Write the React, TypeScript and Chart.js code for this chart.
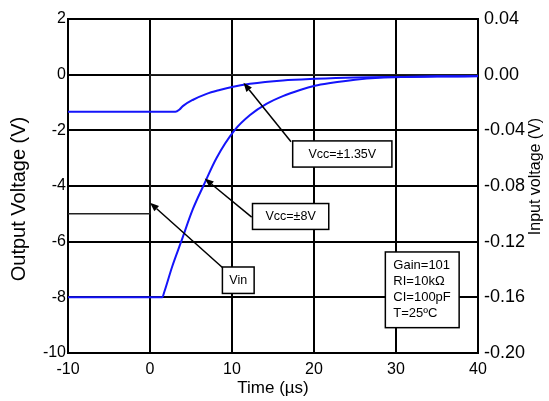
import React, { useEffect, useRef } from "react";
import { Chart, registerables } from "chart.js";

Chart.register(...registerables);

// Axis ticks
const timeTicks = [-10, 0, 10, 20, 30, 40];
const outputTicks = [2, 0, -2, -4, -6, -8, -10];
const inputTicks = [0.04, 0.0, -0.04, -0.08, -0.12, -0.16, -0.2];

// Vcc = ±8V output (V) vs time (µs)
const time8 = [-10, 0, 1.5, 1.75, 2.7, 3.8, 5.2, 6.5, 8.1, 10.3, 12.2, 14.2, 16.2, 18.3, 20.1, 22, 25, 28, 31, 35, 40];
const out8 = [-8.0, -8.0, -8.0, -7.8, -6.9, -6.0, -4.85, -4.0, -3.0, -2.0, -1.45, -1.05, -0.77, -0.55, -0.4, -0.3, -0.18, -0.11, -0.08, -0.06, -0.05];

// Vcc = ±1.35V output (V) vs time (µs)
const time135 = [-10, 0, 3.1, 3.6, 4.0, 5.2, 6.9, 8.5, 10.0, 12.2, 16.2, 20.1, 25, 30, 35, 40];
const out135 = [-1.33, -1.33, -1.33, -1.25, -1.13, -0.91, -0.69, -0.55, -0.44, -0.33, -0.21, -0.15, -0.1, -0.08, -0.07, -0.06];

// Input step (V, right axis)
const timeVin = [-10, 0, 0, 40];
const inVin = [-0.1, -0.1, 0.0, 0.0];

const legendLines = ["Gain=101", "RI=10kΩ", "CI=100pF", "T=25ºC"];

const FONT = '"Liberation Sans", Arial, Helvetica, sans-serif';
const BLUE = "rgb(20,20,250)";

const callouts = [
  { text: "Vcc=±1.35V", box: [17.4, -2.38, 29.5, -3.32], tail: [17.2, -2.41], tip: [11.4, -0.29] },
  { text: "Vcc=±8V", box: [12.5, -4.63, 21.8, -5.56], tail: [12.4, -5.12], tip: [6.67, -3.73] },
  { text: "Vin", box: [8.83, -6.91, 12.7, -7.86], tail: [8.83, -6.93], tip: [0, -4.6] },
];
const legendBox = [28.7, -6.37, 37.7, -9.09];

const overlayPlugin = {
  id: "overlay",
  afterDatasetsDraw(chart: any) {
    const ctx = chart.ctx as CanvasRenderingContext2D;
    const xs = chart.scales.x;
    const ys = chart.scales.y;
    const px = (v: number) => xs.getPixelForValue(v);
    const py = (v: number) => ys.getPixelForValue(v);
    ctx.save();
    callouts.forEach((c) => {
      const x1 = px(c.tail[0]), y1 = py(c.tail[1]);
      const x2 = px(c.tip[0]), y2 = py(c.tip[1]);
      ctx.strokeStyle = "#000";
      ctx.fillStyle = "#000";
      ctx.lineWidth = 1.5;
      const ang = Math.atan2(y2 - y1, x2 - x1);
      const hl = 9, hw = 3.5;
      const bx = x2 - hl * Math.cos(ang), by = y2 - hl * Math.sin(ang);
      ctx.beginPath();
      ctx.moveTo(x1, y1);
      ctx.lineTo(bx, by);
      ctx.stroke();
      ctx.beginPath();
      ctx.moveTo(x2, y2);
      ctx.lineTo(bx + hw * Math.sin(ang), by - hw * Math.cos(ang));
      ctx.lineTo(bx - hw * Math.sin(ang), by + hw * Math.cos(ang));
      ctx.closePath();
      ctx.fill();
      const l = px(c.box[0]), t = py(c.box[1]), r = px(c.box[2]), b = py(c.box[3]);
      ctx.fillStyle = "#fff";
      ctx.fillRect(l, t, r - l, b - t);
      ctx.strokeStyle = "#000";
      ctx.lineWidth = 1.5;
      ctx.strokeRect(l, t, r - l, b - t);
      ctx.fillStyle = "#000";
      ctx.font = `12.5px ${FONT}`;
      ctx.textAlign = "center";
      ctx.textBaseline = "middle";
      ctx.fillText(c.text, (l + r) / 2, (t + b) / 2 + 0.5);
    });
    const l = px(legendBox[0]), t = py(legendBox[1]), r = px(legendBox[2]), b = py(legendBox[3]);
    ctx.fillStyle = "#fff";
    ctx.fillRect(l, t, r - l, b - t);
    ctx.strokeStyle = "#000";
    ctx.lineWidth = 1.5;
    ctx.strokeRect(l, t, r - l, b - t);
    ctx.fillStyle = "#000";
    ctx.font = `13px ${FONT}`;
    ctx.textAlign = "left";
    ctx.textBaseline = "middle";
    legendLines.forEach((s, i) => {
      ctx.fillText(s, l + 8, t + 13.5 + i * 16);
    });
    ctx.restore();
  },
  afterDraw(chart: any) {
    const ctx = chart.ctx as CanvasRenderingContext2D;
    const a = chart.chartArea;
    ctx.save();
    ctx.fillStyle = "#000";
    ctx.textAlign = "center";
    ctx.textBaseline = "middle";
    ctx.font = `17px ${FONT}`;
    ctx.fillText("Time (µs)", (a.left + a.right) / 2, a.bottom + 35);
    ctx.save();
    ctx.translate(a.left - 49, (a.top + a.bottom) / 2 + 13);
    ctx.rotate(-Math.PI / 2);
    ctx.font = `20px ${FONT}`;
    ctx.fillText("Output Voltage (V)", 0, 0);
    ctx.restore();
    ctx.save();
    ctx.translate(a.right + 58, (a.top + a.bottom) / 2 - 9.5);
    ctx.rotate(-Math.PI / 2);
    ctx.font = `16px ${FONT}`;
    ctx.fillText("Input voltage (V)", 0, 0);
    ctx.restore();
    ctx.restore();
  },
};

export default function App() {
  const ref = useRef<HTMLCanvasElement>(null);
  useEffect(() => {
    document.body.style.margin = "0";
    const canvas = ref.current!;
    const gridCfg = { color: "#000", lineWidth: 2, drawTicks: false };
    const borderCfg = { color: "#000", width: 2 };
    const chart = new Chart(canvas, {
      type: "line",
      data: {
        datasets: [
          {
            label: "Vcc=±1.35V",
            data: time135.map((t, i) => ({ x: t, y: out135[i] })),
            borderColor: BLUE,
            borderWidth: 2,
            pointRadius: 0,
            cubicInterpolationMode: "monotone",
            yAxisID: "y",
            order: 0,
          },
          {
            label: "Vcc=±8V",
            data: time8.map((t, i) => ({ x: t, y: out8[i] })),
            borderColor: BLUE,
            borderWidth: 2,
            pointRadius: 0,
            cubicInterpolationMode: "monotone",
            yAxisID: "y",
            order: 1,
          },
          {
            label: "Vin",
            data: timeVin.map((t, i) => ({ x: t, y: inVin[i] })),
            borderColor: "#222",
            borderWidth: 1.5,
            pointRadius: 0,
            tension: 0,
            yAxisID: "y2",
            order: 2,
          },
        ],
      },
      options: {
        animation: false,
        responsive: false,
        maintainAspectRatio: false,
        layout: { padding: { top: 19, left: 0, right: 0, bottom: 0 } },
        plugins: { legend: { display: false }, tooltip: { enabled: false } },
        scales: {
          x: {
            type: "linear",
            min: -10,
            max: 40,
            afterBuildTicks: (s: any) => {
              s.ticks = timeTicks.map((v) => ({ value: v }));
            },
            afterFit: (s: any) => {
              s.height = 48;
            },
            grid: gridCfg,
            border: borderCfg,
            ticks: { color: "#000", font: { family: FONT, size: 16 }, padding: 7, maxRotation: 0, autoSkip: false },
          },
          y: {
            type: "linear",
            position: "left",
            min: -10,
            max: 2,
            afterBuildTicks: (s: any) => {
              s.ticks = outputTicks.map((v) => ({ value: v }));
            },
            afterFit: (s: any) => {
              s.width = 68;
            },
            grid: gridCfg,
            border: borderCfg,
            ticks: { color: "#000", font: { family: FONT, size: 16 }, padding: 2, autoSkip: false },
          },
          y2: {
            type: "linear",
            position: "right",
            min: -0.2,
            max: 0.04,
            afterBuildTicks: (s: any) => {
              s.ticks = inputTicks.map((v) => ({ value: v }));
            },
            afterFit: (s: any) => {
              s.width = 71;
            },
            grid: { display: false, drawTicks: false },
            border: borderCfg,
            ticks: {
              color: "#000",
              font: { family: FONT, size: 18 },
              padding: 6,
              autoSkip: false,
              callback: (v: any) => Number(v).toFixed(2),
            },
          },
        },
      },
      plugins: [overlayPlugin],
    } as any);
    return () => chart.destroy();
  }, []);
  return (
    <div style={{ width: 549, height: 401 }}>
      <canvas ref={ref} width={549} height={401} style={{ display: "block" }} />
    </div>
  );
}
